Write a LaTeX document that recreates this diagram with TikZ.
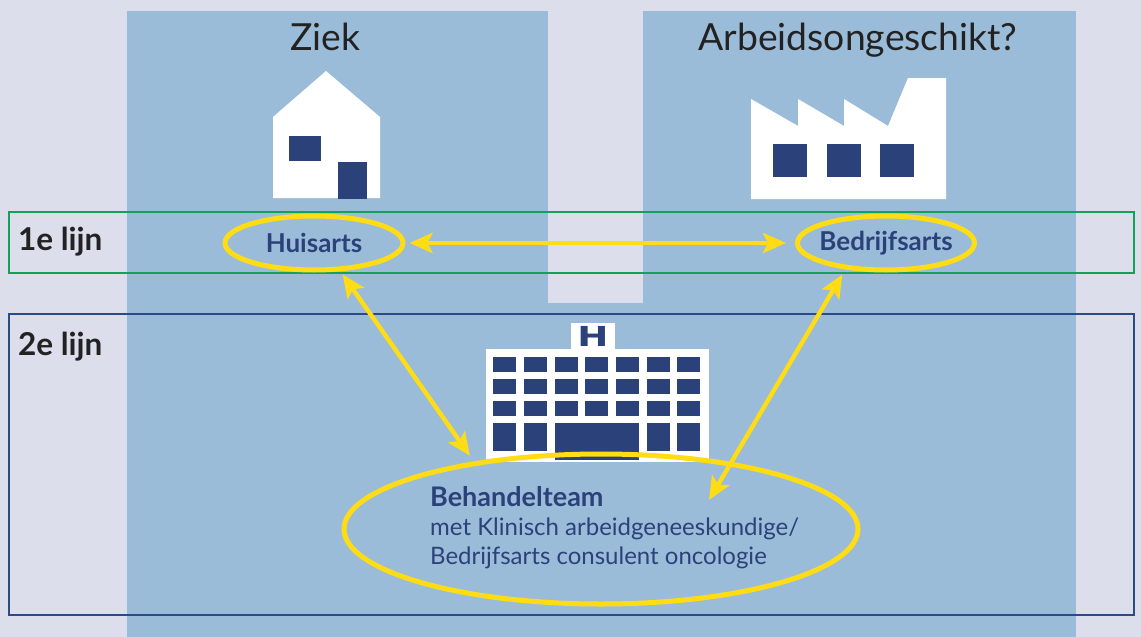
\documentclass[tikz,border=0pt]{standalone}
\usepackage{fontspec}
\setmainfont{Lato}
\newfontfamily\signfont{DejaVu Sans}
\usepackage{xcolor}
\usetikzlibrary{shapes.geometric,arrows.meta}
\definecolor{pagebg}{HTML}{DCDFEB}
\definecolor{panelblue}{HTML}{9BBCD9}
\definecolor{navy}{HTML}{2B4179}
\definecolor{linegreen}{HTML}{12A05A}
\definecolor{lineblue}{HTML}{2C4A85}
\definecolor{signal}{HTML}{FFDC14}
\definecolor{inkdark}{HTML}{222222}
\begin{document}
\begin{tikzpicture}[
    x=1pt, y=-1pt,
    panel/.style={fill=panelblue, draw=none},
    building/.style={fill=white, draw=none},
    pane/.style={fill=navy, draw=none},
    lijnbox/.style={draw, line width=1.6pt, fill=none},
    ring/.style={ellipse, draw=signal, line width=5pt, inner ysep=0pt, inner xsep=-6pt},
    link/.style={draw=signal, line width=4.4pt, {Stealth[length=23pt,width=20pt,inset=5pt]}-{Stealth[length=23pt,width=20pt,inset=5pt]}},
    coltitle/.style={anchor=base, text=inkdark, font=\fontsize{37.3}{37.3}\selectfont},
    lijntext/.style={anchor=base west, text=inkdark, font=\fontsize{31.5}{31.5}\selectfont\bfseries},
    doctor/.style={text=navy, font=\fontsize{26}{26}\selectfont\bfseries}
]
    % Background
    \useasboundingbox (0,0) rectangle (1141,637);
    \fill[pagebg] (0,0) rectangle (1141,637);
    \fill[panel] (127,11) rectangle (548,637);
    \fill[panel] (643,11) rectangle (1076,637);
    \fill[panel] (548,303) rectangle (643,637);

    % Titles
    \node[coltitle] (ziek) at (325,50) {Ziek};
    \node[coltitle] (arbeid) at (858,50) {Arbeidsongeschikt?};

    % House
    \fill[building] (273,117) -- (326,71) -- (380,117) -- (380,198) -- (273,198) -- cycle;
    \fill[pane] (289,136) rectangle (321,161);
    \fill[pane] (338,162) rectangle (367,199);

    % Factory
    \fill[building] (751,99) -- (798,126) -- (798,99) -- (844,126) -- (844,99) -- (888,126)
        -- (908,78) -- (946,78) -- (946,199) -- (751,199) -- cycle;
    \fill[pane] (773,144) rectangle (807,177);
    \fill[pane] (827,144) rectangle (861,177);
    \fill[pane] (880,144) rectangle (914,177);

    % Hospital
    \fill[building] (486,349) rectangle (709,462);
    \fill[building] (571,323) rectangle (615,349);
    \node[text=navy, inner sep=0pt, xscale=1.35, font=\fontsize{27.5}{27.5}\signfont\bfseries] (hsign) at (593,336) {H};
    \foreach \x in {493,524,555,585,616,647,677} {
        \foreach \y in {357,379,401} {
            \fill[pane] (\x,\y) rectangle ++(23,15);
        }
    }
    \foreach \x in {493,524,647,677} {
        \fill[pane] (\x,423) rectangle ++(23,28);
    }
    \fill[pane] (555,423) rectangle (639,460);

    % Lines
    \draw[lijnbox, draw=linegreen] (9,212) rectangle (1134,273);
    \draw[lijnbox, draw=lineblue] (9,314) rectangle (1134,615);
    \node[lijntext] (lijn1) at (14.5,250) {1e lijn};
    \node[lijntext] (lijn2) at (14.5,355) {2e lijn};

    % People
    \node[ring, doctor, minimum width=178pt, minimum height=54pt] (huisarts) at (314,243) {Huisarts};
    \node[ring, doctor, minimum width=177pt, minimum height=54pt] (bedrijfsarts) at (886,243) {Bedrijfsarts};
    \node[ring, minimum width=514pt, minimum height=150pt] (team) at (601,529) {};
    \node[anchor=north west, inner sep=0pt, align=left, text=navy, font=\fontsize{24}{29}\selectfont] (teamtext) at (430,486)
        {{\fontsize{27}{29}\selectfont\bfseries Behandelteam}\\met Klinisch arbeidgeneeskundige/\\Bedrijfsarts consulent oncologie};
    \coordinate (teamtip) at (709,500);

    % Arrows
    \draw[link, shorten <=4pt, shorten >=9pt] (huisarts.east) -- (bedrijfsarts.west);
    \draw[link, shorten <=4pt, shorten >=7pt] (huisarts.-47) -- (team.152);
    \draw[link, shorten <=6pt] (bedrijfsarts.-147) -- (teamtip);
\end{tikzpicture}
\end{document}
